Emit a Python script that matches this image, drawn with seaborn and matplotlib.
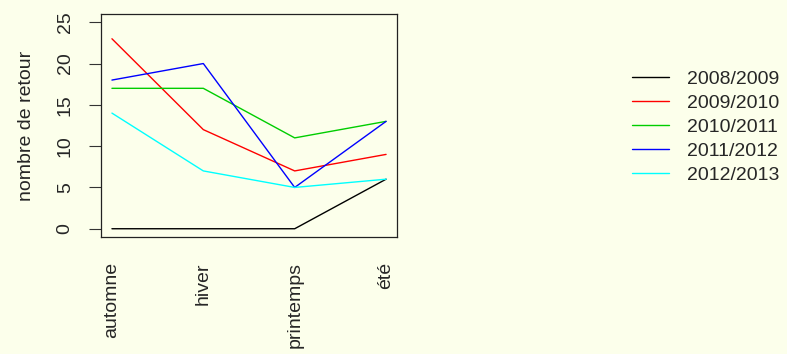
import pandas as pd
import matplotlib.pyplot as plt
import seaborn as sns

# Data
saisons = ['automne', 'hiver', 'printemps', 'été']
annees = ['2008/2009', '2009/2010', '2010/2011', '2011/2012', '2012/2013']
v_2008 = [0, 0, 0, 6]
v_2009 = [23, 12, 7, 9]
v_2010 = [17, 17, 11, 13]
v_2011 = [18, 20, 5, 13]
v_2012 = [14, 7, 5, 6]
couleurs = ['black', '#FF0000', '#00CD00', '#0000FF', '#00FFFF']

valeurs = [v_2008, v_2009, v_2010, v_2011, v_2012]
rows = []
for annee, vals in zip(annees, valeurs):
    for i, v in enumerate(vals):
        rows.append({'pos': i, 'saison': saisons[i], 'annee': annee, 'retour': v})
df = pd.DataFrame(rows)

bg = '#FCFFEB'
sns.set_style('white')
plt.rcParams['font.family'] = ['Liberation Sans', 'DejaVu Sans']

fig = plt.figure(figsize=(7.87, 3.54), dpi=100, facecolor=bg)
ax = fig.add_axes([0.1283, 0.3305, 0.3762, 0.63])
ax.set_facecolor(bg)

sns.lineplot(
    data=df, x='pos', y='retour', hue='annee',
    palette=couleurs, linewidth=1, sort=False,
    legend=False, ax=ax
)

ax.set_xlim(-0.12, 3.12)
ax.set_ylim(-1, 26)
ax.set_xticks(range(len(saisons)))
ax.set_xticklabels(saisons, rotation=90, fontsize=14, va='top', ha='center')
ax.set_yticks([0, 5, 10, 15, 20, 25])
ax.set_yticklabels(['0', '5', '10', '15', '20', '25'], rotation=90,
                   fontsize=14, va='center')
ax.tick_params(axis='x', length=0, pad=18)
ax.tick_params(axis='y', length=8.6, width=0.8, color='#333333', pad=11,
               left=True)
for s in ax.spines.values():
    s.set_color('#222222')
    s.set_linewidth(0.9)

ax.set_xlabel('')
ax.set_ylabel('nombre de retour', fontsize=14, labelpad=16)

# Legend
handles = [plt.Line2D([], [], color=c, lw=1) for c in couleurs]
fig.legend(
    handles, annees,
    loc='upper left', bbox_to_anchor=(0.791, 0.83),
    frameon=False, fontsize=14,
    handlelength=1.9, handletextpad=0.9,
    labelspacing=0.33, borderpad=0
)

plt.savefig('out.png', dpi=100, facecolor=bg)
